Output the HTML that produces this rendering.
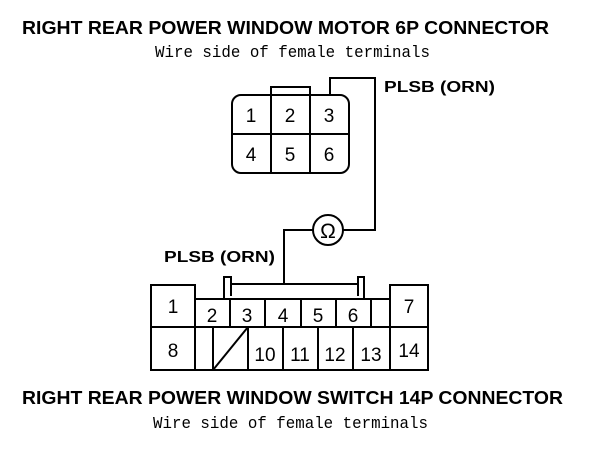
<!DOCTYPE html>
<html><head><style>
body{margin:0;background:#fff}
</style></head><body>
<svg width="608" height="452" xmlns="http://www.w3.org/2000/svg" style="display:block">
<g font-family="Liberation Sans, sans-serif" font-weight="bold" font-size="18">
<text x="22" y="34" textLength="527" lengthAdjust="spacingAndGlyphs">RIGHT REAR POWER WINDOW MOTOR 6P CONNECTOR</text>
<text x="22" y="404" textLength="541" lengthAdjust="spacingAndGlyphs">RIGHT REAR POWER WINDOW SWITCH 14P CONNECTOR</text>
<text x="384" y="92" font-size="16" textLength="111" lengthAdjust="spacingAndGlyphs">PLSB (ORN)</text>
<text x="164" y="262" font-size="16" textLength="111" lengthAdjust="spacingAndGlyphs">PLSB (ORN)</text>
</g>
<g font-family="Liberation Mono, monospace" font-size="17">
<text x="155" y="57" textLength="275" lengthAdjust="spacingAndGlyphs">Wire side of female terminals</text>
<text x="153" y="428" textLength="275" lengthAdjust="spacingAndGlyphs">Wire side of female terminals</text>
</g>
<g fill="none" stroke="#000" stroke-width="2">
<rect x="232" y="95" width="117" height="78" rx="9"/>
<line x1="271" y1="95" x2="271" y2="173"/><line x1="310" y1="95" x2="310" y2="173"/>
<line x1="232" y1="134" x2="349" y2="134"/>
<polyline points="271,95 271,87 310,87 310,95"/>
<polyline points="330,95 330,78 375,78 375,230 343,230"/>
<circle cx="328" cy="230" r="15"/>
<polyline points="313,230 284,230 284,284"/>
<rect x="151" y="285" width="44" height="85"/>
<line x1="151" y1="327" x2="195" y2="327"/>
<rect x="390" y="285" width="38" height="85"/>
<line x1="390" y1="327" x2="428" y2="327"/>
<polyline points="195,299 390,299"/>
<line x1="195" y1="370" x2="390" y2="370"/>
<line x1="195" y1="327" x2="390" y2="327"/>
<line x1="230" y1="299" x2="230" y2="327"/><line x1="265" y1="299" x2="265" y2="327"/>
<line x1="301" y1="299" x2="301" y2="327"/><line x1="336" y1="299" x2="336" y2="327"/>
<line x1="371" y1="299" x2="371" y2="327"/>
<line x1="213" y1="327" x2="213" y2="370"/><line x1="248" y1="327" x2="248" y2="370"/>
<line x1="283" y1="327" x2="283" y2="370"/><line x1="318" y1="327" x2="318" y2="370"/>
<line x1="353" y1="327" x2="353" y2="370"/>
<line x1="213" y1="370" x2="248" y2="327"/>
<line x1="231" y1="284" x2="358" y2="284"/>
<polyline points="224,299 224,277 231,277 231,296"/>
<polyline points="358,296 358,277 364,277 364,299"/>
</g>
<g font-family="Liberation Sans, sans-serif" font-size="19" text-anchor="middle">
<text x="251" y="122">1</text><text x="290" y="122">2</text><text x="329" y="122">3</text>
<text x="251" y="161">4</text><text x="290" y="161">5</text><text x="329" y="161">6</text>
<text x="328" y="238" font-size="21">Ω</text>
<text x="173" y="313">1</text><text x="173" y="357">8</text>
<text x="409" y="313">7</text><text x="409" y="357">14</text>
<text x="212" y="322">2</text><text x="247" y="322">3</text><text x="283" y="322">4</text>
<text x="318" y="322">5</text><text x="353" y="322">6</text>
<text x="265" y="361">10</text><text x="300" y="361">11</text><text x="335" y="361">12</text><text x="371" y="361">13</text>
</g>
</svg>
</body></html>
